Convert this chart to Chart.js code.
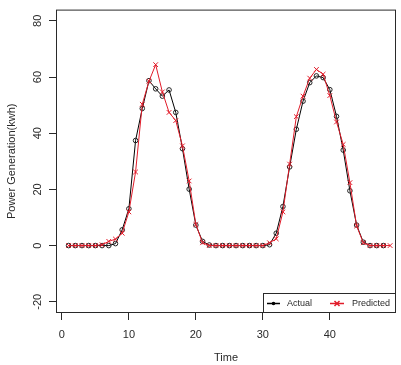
<!DOCTYPE html>
<html>
<head>
<meta charset="utf-8">
<script src="https://cdn.jsdelivr.net/npm/chart.js@4.4.1/dist/chart.umd.min.js"></script>
<style>
  body { margin: 0; background: #fff; }
</style>
</head>
<body>
<canvas id="chart" width="401" height="365"></canvas>
<script>
// valeurs
const timeActual = [1, 2, 3, 4, 5, 6, 7, 8, 9, 10, 11, 12, 13, 14, 15, 16, 17, 18, 19, 20, 21, 22, 23, 24,
    25, 26, 27, 28, 29, 30, 31, 32, 33, 34, 35, 36, 37, 38, 39, 40, 41, 42, 43, 44, 45, 46, 47, 48];
const actual = [0, 0, 0, 0, 0, 0, 0, 0.7, 5.6, 13.1, 37.4, 48.8, 58.7, 55.8, 53.2, 55.4, 47.4, 34.5, 20.1, 7.3, 1.5, 0.2, 0, 0,
    0, 0, 0, 0, 0, 0, 0.3, 4.4, 13.9, 28, 41.4, 51.4, 58, 60.4, 59.8, 55.5, 46, 34, 19.5, 7.3, 1.2, 0, 0, 0];
const timePredicted = [1, 2, 3, 4, 5, 6, 7, 8, 9, 10, 11, 12, 13, 14, 15, 16, 17, 18, 19, 20, 21, 22, 23, 24,
    25, 26, 27, 28, 29, 30, 31, 32, 33, 34, 35, 36, 37, 38, 39, 40, 41, 42, 43, 44, 45, 46, 47, 48, 49];
const predicted = [0, 0, 0, 0, 0, 0.3, 1.5, 2.3, 4.4, 12, 26.2, 50.3, 58.5, 64.4, 54.7, 47.4, 44.5, 35.5, 23, 7.5, 1, 0, 0, 0,
    0, 0, 0, 0, 0, 0, 1, 2.4, 12, 29, 45.9, 53.2, 59.6, 62.7, 61, 53.4, 44, 36, 22.4, 7, 1, 0, 0, 0, 0];
const xTicks = [0, 10, 20, 30, 40];
const yTicks = [-20, 0, 20, 40, 60, 80];
const seriesNames = ['Actual', 'Predicted'];

const ink = '#2a2a2a';
const red = 'rgb(225,28,42)';

Chart.defaults.font.family = "'Liberation Sans', Arial, sans-serif";
Chart.defaults.color = ink;

function toPoints (xs, ys) {
    return xs.map((x, i) => ({ x: x, y: ys[i] }));
}

// cadre + légende façon R
const cadre = {
    id: 'cadre',
    afterDraw (chart) {
        const ctx = chart.ctx;
        const a = chart.chartArea;
        ctx.save();
        ctx.strokeStyle = ink;
        ctx.lineWidth = 1;
        ctx.strokeRect(a.left + 0.5, a.top + 0.5, a.right - a.left - 1, a.bottom - a.top - 1);

        // légende en bas à droite
        const w = 133, h = 20;
        const lx = a.right - w, ly = a.bottom - h;
        ctx.fillStyle = '#fff';
        ctx.fillRect(lx, ly, w, h);
        ctx.strokeRect(lx + 0.5, ly + 0.5, w - 1, h - 1);
        const cy = ly + h / 2 + 0.5;
        ctx.font = "9px 'Liberation Sans', Arial, sans-serif";
        ctx.textBaseline = 'middle';

        ctx.strokeStyle = '#000';
        ctx.lineWidth = 1.5;
        ctx.beginPath(); ctx.moveTo(lx + 4, cy); ctx.lineTo(lx + 17, cy); ctx.stroke();
        ctx.fillStyle = '#000';
        ctx.beginPath(); ctx.arc(lx + 10.5, cy, 1.8, 0, Math.PI * 2); ctx.fill();
        ctx.fillStyle = ink;
        ctx.fillText(seriesNames[0], lx + 24, cy);

        ctx.strokeStyle = red;
        ctx.beginPath(); ctx.moveTo(lx + 67, cy); ctx.lineTo(lx + 81, cy); ctx.stroke();
        ctx.beginPath();
        ctx.moveTo(lx + 71.5, cy - 2.5); ctx.lineTo(lx + 76.5, cy + 2.5);
        ctx.moveTo(lx + 76.5, cy - 2.5); ctx.lineTo(lx + 71.5, cy + 2.5);
        ctx.stroke();
        ctx.fillStyle = ink;
        ctx.fillText(seriesNames[1], lx + 89, cy);
        ctx.restore();
    }
};

new Chart(document.getElementById('chart'), {
    type: 'line',
    data: {
        datasets: [{
            label: seriesNames[0],
            data: toPoints(timeActual, actual),
            borderColor: '#000',
            borderWidth: 1,
            pointStyle: 'circle',
            pointRadius: 2.3,
            pointBorderWidth: 1,
            pointBorderColor: '#222',
            pointBackgroundColor: 'rgba(0,0,0,0)',
            tension: 0,
            order: 1
        }, {
            label: seriesNames[1],
            data: toPoints(timePredicted, predicted),
            borderColor: red,
            borderWidth: 1,
            pointStyle: 'crossRot',
            pointRadius: 3.3,
            pointBorderWidth: 1,
            pointBorderColor: red,
            tension: 0,
            order: 0
        }]
    },
    options: {
        responsive: false,
        animation: false,
        layout: { padding: { top: 8, right: 2, left: 0, bottom: 0 } },
        plugins: {
            legend: { display: false },
            tooltip: { enabled: false }
        },
        scales: {
            x: {
                type: 'linear',
                min: -0.88,
                max: 49.88,
                afterBuildTicks: (scale) => { scale.ticks = xTicks.map(v => ({ value: v })); },
                afterFit: (scale) => { scale.height = 52; },
                grid: { drawOnChartArea: false, drawTicks: true, tickLength: 7, tickColor: ink },
                border: { display: false },
                ticks: { font: { size: 11 }, padding: 8, maxRotation: 0 },
                title: { display: true, text: 'Time', font: { size: 11 }, padding: { top: 0, bottom: 0 } }
            },
            y: {
                type: 'linear',
                min: -24,
                max: 84,
                afterBuildTicks: (scale) => { scale.ticks = yTicks.map(v => ({ value: v })); },
                afterFit: (scale) => { scale.width = 56; },
                grid: { drawOnChartArea: false, drawTicks: true, tickLength: 7, tickColor: ink },
                border: { display: false },
                ticks: { font: { size: 11 }, padding: 3, minRotation: 90, maxRotation: 90, crossAlign: 'center' },
                title: { display: true, text: 'Power Generation(kwh)', font: { size: 11 }, padding: { top: 5, bottom: 0 } }
            }
        }
    },
    plugins: [cadre]
});
</script>
</body>
</html>
